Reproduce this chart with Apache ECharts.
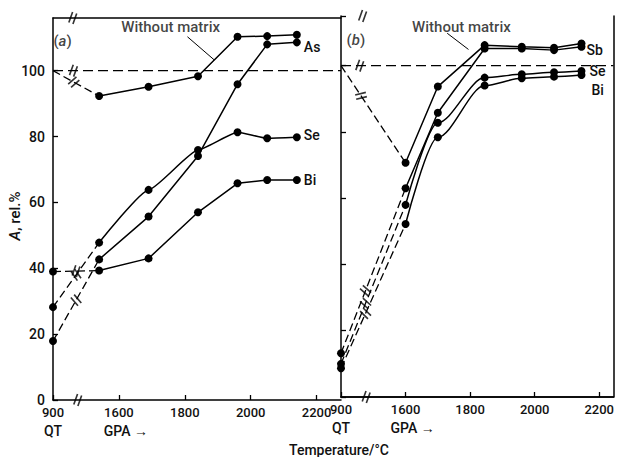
<!DOCTYPE html>
<html><head><meta charset="utf-8">
<script src="https://cdn.jsdelivr.net/npm/echarts@6/dist/echarts.min.js"></script>
<style>html,body{margin:0;padding:0;background:#fff}#c{width:617px;height:457px}</style>
</head><body><div id="c"></div>
<script>
// ---------- data ----------
const QT_TEMP = 900;          // quartz-tube (QT) temperature, drawn at the broken-axis position below
const QT_AXIS_POS = 1400;     // axis position of the QT point (axis is broken between 900 and 1600)
const xTickLabels = ['900', '1600', '1800', '2000', '2200'];
const yTickLabels = ['0', '20', '40', '60', '80', '100'];
const referenceLevel = 100;

// panel (a)
const tempsA      = [1540, 1690, 1840, 1960, 2050, 2140];
const noMatrixA   = [92.3, 95.1, 98.3, 110.3, 110.5, 110.9];
const asA         = [42.7, 55.7, 74.1, 95.9, 108.0, 108.6];
const seA         = [47.8, 63.8, 75.9, 81.3, 79.5, 79.8];
const biA         = [39.3, 43.0, 57.0, 65.8, 66.8, 66.8];
const qtNoMatrixA = 100, qtAsA = 17.9, qtSeA = 28.2, qtBiA = 39.0;

// panel (b)
const tempsB      = [1600, 1700, 1845, 1960, 2060, 2145];
const noMatrixB   = [70.7, 93.7, 106.2, 105.7, 105.4, 106.7];
const sbB         = [63.0, 85.8, 105.2, 105.2, 104.7, 105.7];
const seB         = [58.0, 82.8, 96.4, 97.4, 98.0, 98.4];
const biB         = [52.2, 78.4, 94.0, 96.2, 96.7, 97.2];
const qtNoMatrixB = 100, qtSbB = 13.2, qtSeB = 10.0, qtBiB = 8.7;

// annotation anchors (data coordinates)
const annotA = { text: [1757, 113.3], from: [1808, 110.3], to: [1889, 103.3], tag: [1429, 109] };
const annotB = { text: [1773, 111.7], from: [1729, 109.8], to: [1795, 104.9], tag: [1446, 107.8] };

// ---------- chart ----------
const FONT = 'Roboto, "Liberation Sans", Arial, sans-serif';
const TXT = { fontFamily: FONT, fontSize: 14, fontWeight: 500, color: '#111' };
const RANGE = { a: { xMax: 2274, yMax: 116 }, b: { xMax: 2244, yMax: 115 } };
const pos = t => (t === QT_TEMP ? QT_AXIS_POS : t);
const tickPos = xTickLabels.map(l => pos(Number(l)));

const chart = echarts.init(document.getElementById('c'), null, { renderer: 'svg' });

function xLabel(v) {
  const i = tickPos.indexOf(v);
  if (i < 0) return '';
  if (i === 0) return '{n|' + xTickLabels[0] + '}\n{q|QT}';
  if (i === 1) return '{n|' + xTickLabels[1] + '}\n{g|GPA \u2192}';
  return '{n|' + xTickLabels[i] + '}';
}
const xRich = {
  n: Object.assign({}, TXT, { fontSize: 13, lineHeight: 15 }),
  q: Object.assign({}, TXT, { fontSize: 14, lineHeight: 22 }),
  g: Object.assign({}, TXT, { fontSize: 14, lineHeight: 22, padding: [0, 0, 0, 14] })
};
function xAxisBottom(grid, max) {
  return {
    type: 'value', gridIndex: grid, position: 'bottom', min: QT_AXIS_POS, max: max, interval: 200,
    axisLine: { lineStyle: { color: '#000', width: 1.5 } },
    axisTick: { inside: true, length: 5, lineStyle: { color: '#000', width: 1.3 } },
    axisLabel: { show: true, margin: 5, showMaxLabel: false, formatter: xLabel, rich: xRich },
    splitLine: { show: false }
  };
}
function frameAxisX(grid, max) {
  return { type: 'value', gridIndex: grid, position: 'top', min: QT_AXIS_POS, max: max,
    axisLine: { lineStyle: { color: '#000', width: 1.5 } }, axisTick: { show: false },
    axisLabel: { show: false }, splitLine: { show: false } };
}
function yAxisLeft(grid, max, showLabels) {
  return {
    type: 'value', gridIndex: grid, position: 'left', min: 0, max: max, interval: 20,
    axisLine: { lineStyle: { color: '#000', width: 1.5 } },
    axisTick: { inside: true, length: 5, lineStyle: { color: '#000', width: 1.3 } },
    axisLabel: Object.assign({ show: showLabels, margin: 8, showMaxLabel: false,
      formatter: v => { const i = yTickLabels.indexOf(String(v)); return i < 0 ? '' : yTickLabels[i]; } }, TXT),
    splitLine: { show: false }
  };
}

const xAx = [xAxisBottom(0, RANGE.a.xMax), frameAxisX(0, RANGE.a.xMax),
             xAxisBottom(1, RANGE.b.xMax), frameAxisX(1, RANGE.b.xMax)];
const yAx = [yAxisLeft(0, RANGE.a.yMax, true), yAxisLeft(1, RANGE.b.yMax, false),
  { type: 'value', gridIndex: 1, position: 'right', min: 0, max: RANGE.b.yMax,
    axisLine: { show: true, lineStyle: { color: '#000', width: 1.5 } }, axisTick: { show: false },
    axisLabel: { show: false }, splitLine: { show: false } }];

const AXI = [{ x: 0, y: 0 }, { x: 2, y: 1 }];
const series = [];
const breaks = [[], []];  // per panel: {at, from, to}

function addCurve(gi, name, qtVal, temps, vals, o) {
  const ax = AXI[gi];
  const first = [pos(temps[0]), vals[0]];
  const qt = [QT_AXIS_POS, qtVal];
  series.push({
    type: 'line', xAxisIndex: ax.x, yAxisIndex: ax.y, silent: true, z: 3,
    data: [{ value: qt, symbol: o.qtDot ? 'circle' : 'none' }, { value: first, symbol: 'none' }],
    symbolSize: 8, itemStyle: { color: '#000' },
    lineStyle: { color: '#000', width: 1.3, type: [8, 4] }
  });
  series.push({
    type: 'line', name: name, xAxisIndex: ax.x, yAxisIndex: ax.y, silent: true, z: 4,
    data: temps.map((t, i) => [pos(t), vals[i]]),
    symbol: 'circle', symbolSize: 8, itemStyle: { color: '#000' },
    smooth: o.smooth || false, smoothMonotone: 'x',
    lineStyle: { color: '#000', width: 1.5 },
    endLabel: o.label ? Object.assign({ show: true, formatter: o.label, distance: o.dist || 7,
      offset: o.off || [0, 0], lineHeight: 12 }, TXT, { fontSize: 14 }) : { show: false }
  });
  const f = o.breakAt;
  breaks[gi].push({ at: [qt[0] + f * (first[0] - qt[0]), qt[1] + f * (first[1] - qt[1])], from: qt, to: first });
}

// reference lines at 100 %
[['a', 0], ['b', 1]].forEach(([k, gi]) => {
  series.push({ type: 'line', xAxisIndex: AXI[gi].x, yAxisIndex: AXI[gi].y, silent: true, symbol: 'none', z: 2,
    data: [[QT_AXIS_POS, referenceLevel], [RANGE[k].xMax, referenceLevel]],
    lineStyle: { color: '#000', width: 1.3, type: [10, 5] } });
});

addCurve(0, 'Without matrix', qtNoMatrixA, tempsA, noMatrixA, { qtDot: false, breakAt: 0.45 });
addCurve(0, 'As', qtAsA, tempsA, asA, { qtDot: true, breakAt: 0.5, label: 'As', off: [0, 5] });
addCurve(0, 'Se', qtSeA, tempsA, seA, { qtDot: true, breakAt: 0.5, smooth: 0.15, label: 'Se', off: [0, -2] });
addCurve(0, 'Bi', qtBiA, tempsA, biA, { qtDot: true, breakAt: 0.5, label: 'Bi', off: [0, 0] });

addCurve(1, 'Without matrix', qtNoMatrixB, tempsB, noMatrixB, { qtDot: false, breakAt: 0.31 });
addCurve(1, 'Sb', qtSbB, tempsB, sbB, { qtDot: true, breakAt: 0.38, label: 'Sb', off: [0, 3], dist: 5 });
addCurve(1, 'Se', qtSeB, tempsB, seB, { qtDot: true, breakAt: 0.38, smooth: 0.3, label: 'Se', off: [0, 0], dist: 8 });
addCurve(1, 'Bi', qtBiB, tempsB, biB, { qtDot: true, breakAt: 0.38, smooth: 0.3, label: 'Bi', off: [0, 15], dist: 10 });

// axis / frame / reference-line breaks
breaks[0].push({ at: [1475, 0], from: [0, 0], to: [1, 0] });
breaks[0].push({ at: [1460, RANGE.a.yMax], from: [0, 0], to: [1, 0] });
breaks[0].push({ at: [1462, referenceLevel], from: [0, 0], to: [1, 0] });
breaks[1].push({ at: [1478, 0], from: [0, 0], to: [1, 0] });
breaks[1].push({ at: [1467, RANGE.b.yMax], from: [0, 0], to: [1, 0] });
breaks[1].push({ at: [1458, referenceLevel], from: [0, 0], to: [1, 0] });

// annotations
[[annotA, 0, '(a)', 'Without matrix'], [annotB, 1, '(b)', 'Without matrix']].forEach(([an, gi, tag, txt]) => {
  const ax = AXI[gi];
  series.push({ type: 'line', xAxisIndex: ax.x, yAxisIndex: ax.y, silent: true, symbol: 'none', z: 3,
    data: [an.from, an.to], lineStyle: { color: '#000', width: 1 } });
  series.push({ type: 'scatter', xAxisIndex: ax.x, yAxisIndex: ax.y, silent: true, symbolSize: 0, z: 6,
    data: [{ value: an.text, label: { formatter: txt } },
           { value: an.tag, label: { formatter: '(' + '{i|' + tag.slice(1, 2) + '}' + ')' } }],
    label: Object.assign({ show: true, position: 'inside', rich: { i: Object.assign({}, TXT, { fontStyle: 'italic', fontSize: 15 }) } }, TXT, { fontSize: 15 }) });
});

chart.setOption({
  animation: false,
  backgroundColor: '#fff',
  grid: [
    { left: 53, top: 18, width: 288, height: 382, show: false },
    { left: 341, top: 16, width: 275, height: 381, show: false }
  ],
  xAxis: xAx, yAxis: yAx, series: series,
  graphic: [
    { type: 'text', x: 15, y: 216, rotation: Math.PI / 2,
      style: { text: '{i|A}, rel.%', align: 'center', verticalAlign: 'middle',
        font: '500 15px ' + FONT, fill: '#111',
        rich: { i: { fontStyle: 'italic', fontSize: 15, fontWeight: 500, fontFamily: FONT, fill: '#111' } } } },
    { type: 'text', x: 339, y: 450,
      style: { text: 'Temperature/\u00B0C', align: 'center', verticalAlign: 'middle', font: '500 14px ' + FONT, fill: '#111' } }
  ]
});

// break marks "//" oriented against the line they interrupt
const BREAK_SYMBOL = 'path://M0,0 L11,0 L11,1.5 L0,1.5 Z M0,4 L11,4 L11,5.5 L0,5.5 Z';
breaks.forEach((list, gi) => {
  const ax = AXI[gi];
  const finder = { xAxisIndex: ax.x, yAxisIndex: ax.y };
  const data = list.map(b => {
    let ang = 0;
    if (!(b.from[0] === 0 && b.to[0] === 1)) {
      const p1 = chart.convertToPixel(finder, b.from), p2 = chart.convertToPixel(finder, b.to);
      ang = Math.atan2(-(p2[1] - p1[1]), p2[0] - p1[0]) * 180 / Math.PI;
    }
    return { value: b.at, symbolRotate: ang + 70 };
  });
  series.push({ type: 'scatter', xAxisIndex: ax.x, yAxisIndex: ax.y, silent: true, z: 7,
    symbol: BREAK_SYMBOL, symbolSize: [11, 6], itemStyle: { color: '#000' }, data: data });
});
chart.setOption({ series: series });
</script>
</body></html>
